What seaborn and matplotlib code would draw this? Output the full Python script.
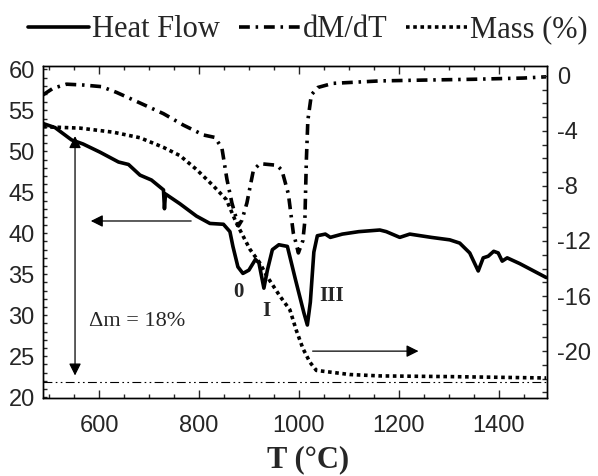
import numpy as np
import pandas as pd
import seaborn as sns
import matplotlib.pyplot as plt
from matplotlib.ticker import MultipleLocator

# Heat flow (left axis)
temp_hf = [488, 512, 545, 568, 602, 639, 659, 682, 705, 729, 731, 733, 762, 795,
           822, 849, 862, 868, 878, 888, 900, 913, 920, 930, 937, 947, 960, 977,
           993, 1010, 1017, 1023, 1030, 1037, 1053, 1063, 1087, 1120, 1162, 1175,
           1202, 1222, 1265, 1302, 1322, 1342, 1359, 1369, 1379, 1390, 1399, 1407,
           1417, 1442, 1495]
heat_flow = [53.4, 52.9, 51.4, 50.9, 49.9, 48.7, 48.4, 47.1, 46.5, 45.3, 43.0, 44.8,
             43.6, 42.1, 41.2, 41.1, 40.2, 38.4, 35.9, 35.1, 35.5, 36.8, 36.4, 33.3,
             35.5, 38.0, 38.6, 38.4, 34.4, 30.3, 28.8, 31.6, 37.7, 39.7, 39.9, 39.5,
             39.9, 40.2, 40.4, 40.2, 39.5, 39.9, 39.5, 39.2, 38.8, 37.6, 35.4, 37.0,
             37.2, 37.8, 37.6, 36.6, 37.0, 36.3, 34.6]

# dM/dT trace (drawn against the left scale)
temp_dm = [488, 508, 535, 568, 605, 635, 675, 729, 769, 809, 832, 846, 856, 866,
           879, 886, 896, 909, 922, 956, 966, 979, 989, 993, 999, 1008, 1012, 1015,
           1018, 1025, 1038, 1068, 1162, 1250, 1350, 1450, 1495]
dm_dt = [56.9, 57.7, 58.2, 58.1, 57.9, 57.2, 56.1, 54.6, 53.2, 52.0, 51.7, 50.4,
         46.6, 43.7, 40.9, 41.6, 43.7, 47.7, 48.5, 48.3, 47.7, 44.8, 40.0, 39.1,
         37.6, 39.1, 41.5, 48.9, 53.8, 56.9, 57.8, 58.3, 58.6, 58.7, 58.8, 58.95, 59.1]

# Mass (%) on the right axis
temp_mass = [488, 562, 629, 682, 729, 762, 795, 829, 855, 875, 902, 922, 935, 962,
             982, 995, 1008, 1022, 1035, 1102, 1162, 1300, 1495]
mass = [-3.7, -3.8, -4.1, -4.5, -5.2, -5.8, -6.8, -8.0, -9.0, -10.7, -12.6, -13.6,
        -14.5, -16.0, -17.0, -18.5, -19.8, -20.8, -21.4, -21.7, -21.8, -21.85, -21.95]

x_ticks = [600, 800, 1000, 1200, 1400]
left_ticks = [20, 25, 30, 35, 40, 45, 50, 55, 60]
right_ticks = [0, -4, -8, -12, -16, -20]
final_mass_level = 21.8          # left-scale level of the dash-dot reference line
peak_names = ['0', 'I', 'III']
peak_temps = [879, 934, 1065]
peak_levels = [32.8, 30.5, 32.4]

hf_df = pd.DataFrame({'T': temp_hf, 'Heat Flow': heat_flow})
dm_df = pd.DataFrame({'T': temp_dm, 'dM/dT': dm_dt})
mass_df = pd.DataFrame({'T': temp_mass, 'Mass (%)': mass})

sns.set_style('ticks')
plt.rcParams['font.family'] = ['Liberation Sans', 'DejaVu Sans']
plt.rcParams['axes.unicode_minus'] = False
serif = 'Liberation Serif'

fig = plt.figure(figsize=(5.98, 4.76), dpi=100)
ax = fig.add_axes([0.072, 0.164, 0.843, 0.697])

sns.lineplot(data=hf_df, x='T', y='Heat Flow', ax=ax, color='black', lw=2.6,
             estimator=None, sort=False)
sns.lineplot(data=dm_df, x='T', y='dM/dT', ax=ax, color='black', lw=2.6,
             estimator=None, sort=False)
hf_line, dm_line = ax.get_lines()[:2]
dm_line.set_dashes((3.0, 1.6, 0.7, 1.6))

ax2 = ax.twinx()
sns.lineplot(data=mass_df, x='T', y='Mass (%)', ax=ax2, color='black', lw=2.6,
             estimator=None, sort=False)
mass_line = ax2.get_lines()[0]
mass_line.set_dashes((1.0, 1.0))

ax.axhline(final_mass_level, color='black', lw=0.8, dashes=(8, 3, 1.5, 3, 1.5, 3))

ax.set_xlim(488, 1497)
ax.set_ylim(19.9, 60.4)
ax2.set_ylim(-23.4, 0.7)

ax.set_xticks(x_ticks)
ax.xaxis.set_minor_locator(MultipleLocator(50))
ax.set_yticks(left_ticks)
ax.yaxis.set_minor_locator(MultipleLocator(1))
ax.tick_params(axis='x', which='both', direction='in', top=True, bottom=True)
ax.tick_params(axis='x', which='major', length=6, width=1, pad=12, labelsize=17)
ax.tick_params(axis='x', which='minor', length=3, width=1)
ax.tick_params(axis='y', which='both', direction='in', length=3, width=1)
ax.tick_params(axis='y', which='major', pad=6, labelsize=17)

ax2.set_yticks(right_ticks)
ax2.yaxis.set_minor_locator(MultipleLocator(1))
ax2.tick_params(axis='y', which='both', direction='in', length=3.5, width=1)
ax2.tick_params(axis='y', which='major', pad=7, labelsize=17)

for a in (ax, ax2):
    for s in a.spines.values():
        s.set_color('black')
        s.set_linewidth(1.0)
ax.set_ylabel('')
ax2.set_ylabel('')
ax.set_xlabel('T (°C)', family=serif, fontsize=22, fontweight='bold')
ax.xaxis.set_label_coords(0.526, -0.187)
ax.xaxis.label.set_va('center')

arrow = dict(arrowstyle='-|>', color='black', lw=0.9, mutation_scale=18)
ax.annotate('', xy=(578, 41.5), xytext=(790, 41.5), arrowprops=arrow)
ax2.annotate('', xy=(1245, -20.0), xytext=(1022, -20.0), arrowprops=arrow)
ax.annotate('', xy=(552, 22.3), xytext=(552, 52.2),
            arrowprops=dict(arrowstyle='<|-|>', color='black', lw=0.9, mutation_scale=18))

ax.text(580, 29.2, 'Δm = 18%', family=serif, fontsize=16, va='center', ha='left')
for name, t, v in zip(peak_names, peak_temps, peak_levels):
    ax.text(t, v, name, family=serif, fontsize=15, fontweight='bold',
            ha='center', va='center')

fig.legend(handles=[hf_line, dm_line, mass_line],
           labels=['Heat Flow', 'dM/dT', 'Mass (%)'],
           loc='center', bbox_to_anchor=(0.515, 0.937), ncol=3, frameon=False,
           prop={'family': serif, 'size': 22}, handlelength=2.0,
           handletextpad=0.1, columnspacing=0.6)

fig.savefig('out.png', dpi=100)
